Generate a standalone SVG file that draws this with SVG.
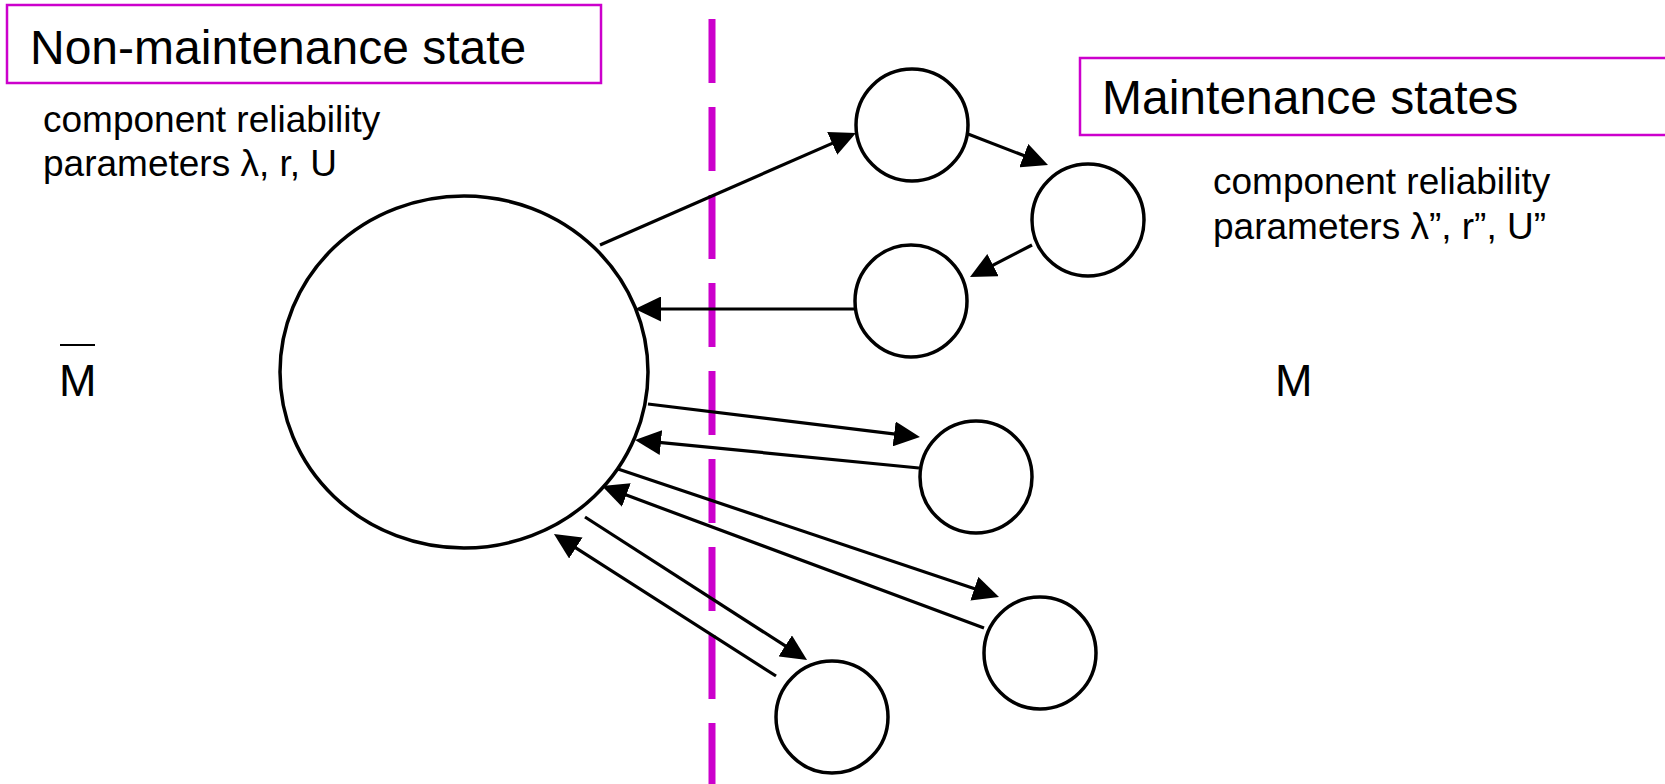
<svg xmlns="http://www.w3.org/2000/svg" width="1665" height="784" viewBox="0 0 1665 784">
<style>
  .box{fill:#fff;stroke:#cc00cc;stroke-width:2.5}
  .title{font-family:"Liberation Sans",Arial,sans-serif;font-size:48px;fill:#000}
  .small{font-family:"Liberation Sans",Arial,sans-serif;font-size:37px;fill:#000}
  .big{font-family:"Liberation Sans",Arial,sans-serif;font-size:45px;fill:#000}
  .node{fill:#fff;stroke:#000;stroke-width:3.5}
  .conn line{stroke:#000;stroke-width:3.2;marker-end:url(#arr)}
  .divider{stroke:#cc00cc;stroke-width:7;stroke-dasharray:64 24}
</style>
<defs>
  <marker id="arr" markerUnits="userSpaceOnUse" markerWidth="26" markerHeight="25" refX="20" refY="12.5" orient="auto">
    <path d="M0,0 L26,12.5 L0,25 z" fill="#000"/>
  </marker>
</defs>
<rect width="1665" height="784" fill="#fff"/>
<line class="divider" x1="712" y1="19" x2="712" y2="784"/>
<g id="label-non-maintenance">
  <rect class="box" x="7" y="5" width="594" height="78"/>
  <text class="title" x="30" y="64">Non-maintenance state</text>
</g>
<g id="label-maintenance">
  <rect class="box" x="1080" y="58" width="600" height="77"/>
  <text class="title" x="1102" y="114">Maintenance states</text>
</g>
<g id="params-left">
  <text class="small" x="43" y="132">component reliability</text>
  <text class="small" x="43" y="176">parameters λ, r, U</text>
</g>
<g id="params-right">
  <text class="small" x="1213" y="194">component reliability</text>
  <text class="small" x="1213" y="239">parameters λ”, r”, U”</text>
</g>
<g id="label-mbar">
  <line x1="60" y1="345" x2="95" y2="345" stroke="#000" stroke-width="2"/>
  <text class="big" x="59" y="396">M</text>
</g>
<g id="label-m">
  <text class="big" x="1275" y="396">M</text>
</g>
<g id="node-main"><ellipse class="node" cx="464" cy="372" rx="184" ry="176"/></g>
<g id="node-m1"><circle class="node" cx="912" cy="125" r="56"/></g>
<g id="node-m2"><circle class="node" cx="1088" cy="220" r="56"/></g>
<g id="node-m3"><circle class="node" cx="911" cy="301" r="56"/></g>
<g id="node-m4"><circle class="node" cx="976" cy="477" r="56"/></g>
<g id="node-m5"><circle class="node" cx="1040" cy="653" r="56"/></g>
<g id="node-m6"><circle class="node" cx="832" cy="717" r="56"/></g>
<g id="connectors" class="conn">
  <line x1="600" y1="245" x2="850.5" y2="135.4"/>
  <line x1="968" y1="134" x2="1042.4" y2="162.8"/>
  <line x1="1032" y1="245" x2="975.3" y2="274.3"/>
  <line x1="856" y1="309" x2="641" y2="309"/>
  <line x1="648" y1="404" x2="914" y2="436.3"/>
  <line x1="919" y1="468" x2="641" y2="440.6"/>
  <line x1="618" y1="469" x2="993.3" y2="595.1"/>
  <line x1="984" y1="628" x2="607.6" y2="488.1"/>
  <line x1="585" y1="517" x2="802" y2="656.7"/>
  <line x1="776" y1="676" x2="559" y2="537.2"/>
</g>
</svg>
